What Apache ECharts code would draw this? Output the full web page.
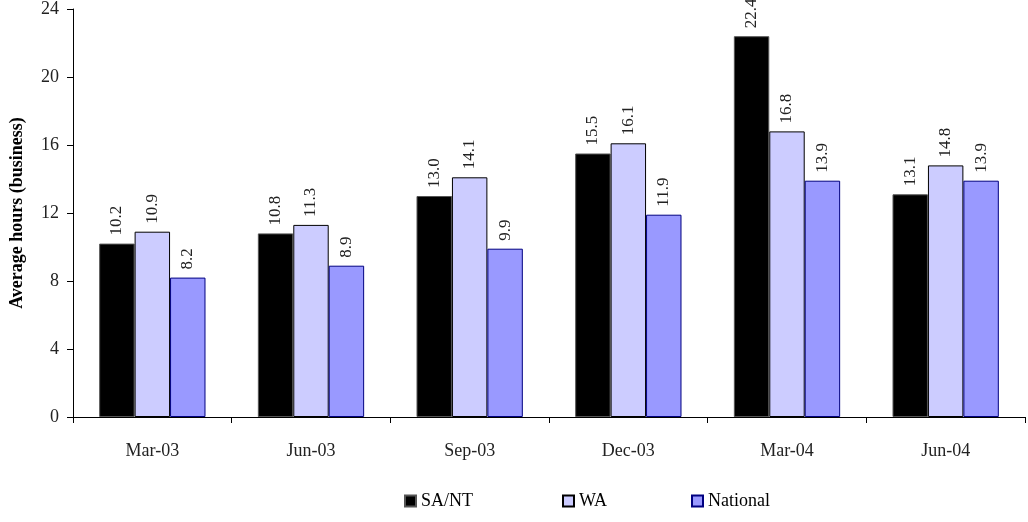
<!DOCTYPE html>
<html><head><meta charset="utf-8">
<script src="https://cdn.jsdelivr.net/npm/echarts@6/dist/echarts.min.js"></script>
<style>html,body{margin:0;padding:0;background:#fff}#c{width:1028px;height:522px}</style>
</head><body><div id="c"></div>
<script>
const categories = ['Mar-03','Jun-03','Sep-03','Dec-03','Mar-04','Jun-04'];
const saNT = [10.2, 10.8, 13.0, 15.5, 22.4, 13.1];
const wa = [10.9, 11.3, 14.1, 16.1, 16.8, 14.8];
const national = [8.2, 8.9, 9.9, 11.9, 13.9, 13.9];
const yTicks = { min: 0, max: 24, interval: 4 };
const seriesNames = ['SA/NT', 'WA', 'National'];

const FONT = '"Liberation Serif", "DejaVu Serif", serif';
function mk(name, data, color, border) {
  return {
    name, type: 'bar', data,
    barCategoryGap: '33%', barGap: '0%',
    itemStyle: { color, borderColor: border, borderWidth: 1 },
    label: {
      show: true, position: 'top', rotate: 90, align: 'left', verticalAlign: 'middle',
      distance: 8, formatter: p => p.value.toFixed(1),
      fontFamily: FONT, fontSize: 17, color: '#222'
    }
  };
}
function lg(name, left) {
  return {
    data: [name], bottom: 7, left, itemWidth: 11, itemHeight: 11, itemGap: 6,
    icon: 'rect',
    textStyle: { fontFamily: FONT, fontSize: 18, color: '#000' }
  };
}
const chart = echarts.init(document.getElementById('c'));
chart.setOption({
  animation: false,
  textStyle: { fontFamily: FONT },
  grid: { left: 71, right: 3, top: 9, bottom: 105, containLabel: false },
  legend: [lg(seriesNames[0], 399), lg(seriesNames[1], 557), lg(seriesNames[2], 686)],
  xAxis: {
    type: 'category', data: categories,
    axisLine: { lineStyle: { color: '#000', width: 1 } },
    axisTick: { show: true, length: 6, lineStyle: { color: '#000' } },
    axisLabel: { fontFamily: FONT, fontSize: 18, color: '#222', margin: 25 }
  },
  yAxis: {
    type: 'value', min: yTicks.min, max: yTicks.max, interval: yTicks.interval,
    name: 'Average hours (business)', nameLocation: 'middle', nameGap: 47,
    nameTextStyle: { fontFamily: FONT, fontSize: 18, fontWeight: 'bold', color: '#000' },
    axisLine: { show: true, lineStyle: { color: '#000', width: 1 } },
    axisTick: { show: true, length: 6, lineStyle: { color: '#000' } },
    axisLabel: { fontFamily: FONT, fontSize: 18, color: '#222', margin: 14 },
    splitLine: { show: false }
  },
  series: [
    mk(seriesNames[0], saNT, '#000000', '#555555'),
    mk(seriesNames[1], wa, '#CCCCFF', '#000000'),
    mk(seriesNames[2], national, '#9999FF', '#000080')
  ]
});
</script></body></html>
